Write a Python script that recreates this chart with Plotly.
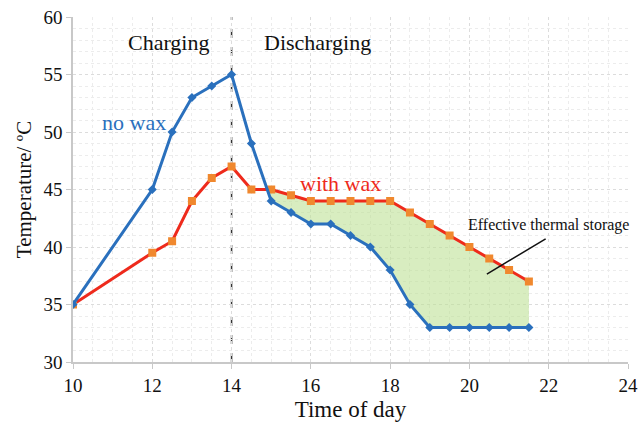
import numpy as np
import plotly.graph_objects as go

# Time of day (h)
time_h = [10, 12, 12.5, 13, 13.5, 14, 14.5, 15, 15.5, 16, 16.5, 17, 17.5,
          18, 18.5, 19, 19.5, 20, 20.5, 21, 21.5]
# Temperature without wax (°C)
temp_no_wax = [35, 45, 50, 53, 54, 55, 49, 44, 43, 42, 42, 41, 40,
               38, 35, 33, 33, 33, 33, 33, 33]
# Temperature with wax (°C)
temp_with_wax = [35, 39.5, 40.5, 44, 46, 47, 45, 45, 44.5, 44, 44, 44, 44,
                 44, 43, 42, 41, 40, 39, 38, 37]

x_ticks = [10, 12, 14, 16, 18, 20, 22, 24]
y_ticks = [30, 35, 40, 45, 50, 55, 60]

BLUE = "#2a70bd"
RED = "#ee2a1c"
ORANGE = "#f0882e"
FONT = "Liberation Serif"

# Region where the wax curve lies above the no-wax curve after the peak
t = np.array(time_h, dtype=float)
a = np.array(temp_no_wax, dtype=float)
b = np.array(temp_with_wax, dtype=float)
d = b - a
start = None
for i in range(len(t) - 1):
    if t[i] >= 14 and d[i] < 0 <= d[i + 1]:
        f = -d[i] / (d[i + 1] - d[i])
        start = (t[i] + f * (t[i + 1] - t[i]), a[i] + f * (a[i + 1] - a[i]), i + 1)
        break
x0, y0, j = start
fill_x = [x0] + list(t[j:]) + list(t[j:][::-1]) + [x0]
fill_y = [y0] + list(b[j:]) + list(a[j:][::-1]) + [y0]

fig = go.Figure()
fig.add_trace(go.Scatter(x=fill_x, y=fill_y, mode="lines", fill="toself",
                         fillcolor="rgba(190,225,150,0.6)", line=dict(width=0),
                         hoverinfo="skip", showlegend=False))
fig.add_trace(go.Scatter(x=time_h, y=temp_with_wax, mode="lines+markers",
                         line=dict(color=RED, width=3),
                         marker=dict(symbol="square", size=8, color=ORANGE),
                         name="with wax", showlegend=False))
fig.add_trace(go.Scatter(x=time_h, y=temp_no_wax, mode="lines+markers",
                         line=dict(color=BLUE, width=3),
                         marker=dict(symbol="diamond", size=7, color=BLUE),
                         name="no wax", showlegend=False))

# Charging / discharging boundary
fig.add_shape(type="line", x0=14, x1=14, y0=30, y1=60, xref="x", yref="y",
              line=dict(color="#333333", width=1.5, dash="dash"), layer="below")

ann_font = dict(family=FONT, size=22, color="#111111")
fig.add_annotation(x=12.42, y=57.8, text="Charging", showarrow=False, font=ann_font)
fig.add_annotation(x=16.16, y=57.8, text="Discharging", showarrow=False, font=ann_font)
fig.add_annotation(x=11.54, y=50.8, text="no wax", showarrow=False,
                   font=dict(family=FONT, size=22, color=BLUE))
fig.add_annotation(x=16.74, y=45.5, text="with wax", showarrow=False,
                   font=dict(family=FONT, size=22, color=RED))
fig.add_annotation(x=20.44, y=37.65, ax=21.96, ay=40.78, axref="x", ayref="y",
                   text="", showarrow=True, arrowhead=0, arrowwidth=1.5,
                   arrowcolor="#111111")
fig.add_annotation(x=22.0, y=41.9, text="Effective thermal storage", showarrow=False,
                   font=dict(family=FONT, size=16, color="#111111"))

grid = "#dcdcdc"
fig.update_xaxes(range=[10, 24], tickvals=x_ticks, ticktext=[str(v) for v in x_ticks],
                 showgrid=True, gridcolor=grid, gridwidth=1, griddash="dot",
                 minor=dict(dtick=0.5, showgrid=True, gridcolor="#ececec", griddash="dot"),
                 showline=True, linecolor="#c8c8c8", linewidth=1.5,
                 ticks="outside", ticklen=5, tickcolor="#c8c8c8",
                 tickfont=dict(family=FONT, size=19, color="#111111"),
                 title=dict(text="Time of day", font=dict(family=FONT, size=23, color="#111111"),
                            standoff=6),
                 zeroline=False, automargin=False)
fig.update_yaxes(range=[30, 60], tickvals=y_ticks, ticktext=[str(v) for v in y_ticks],
                 showgrid=True, gridcolor=grid, gridwidth=1, griddash="dot",
                 minor=dict(dtick=1, showgrid=True, gridcolor="#ececec", griddash="dot"),
                 showline=True, linecolor="#c8c8c8", linewidth=1.5,
                 ticks="outside", ticklen=5, tickcolor="#c8c8c8",
                 tickfont=dict(family=FONT, size=19, color="#111111"),
                 title=dict(text="Temperature/ ºC", font=dict(family=FONT, size=21, color="#111111"),
                            standoff=6),
                 zeroline=False, automargin=False)

fig.update_layout(width=640, height=425, margin=dict(l=73, r=12, t=17, b=63),
                  plot_bgcolor="white", paper_bgcolor="white", showlegend=False)

fig.write_html("out.html")
